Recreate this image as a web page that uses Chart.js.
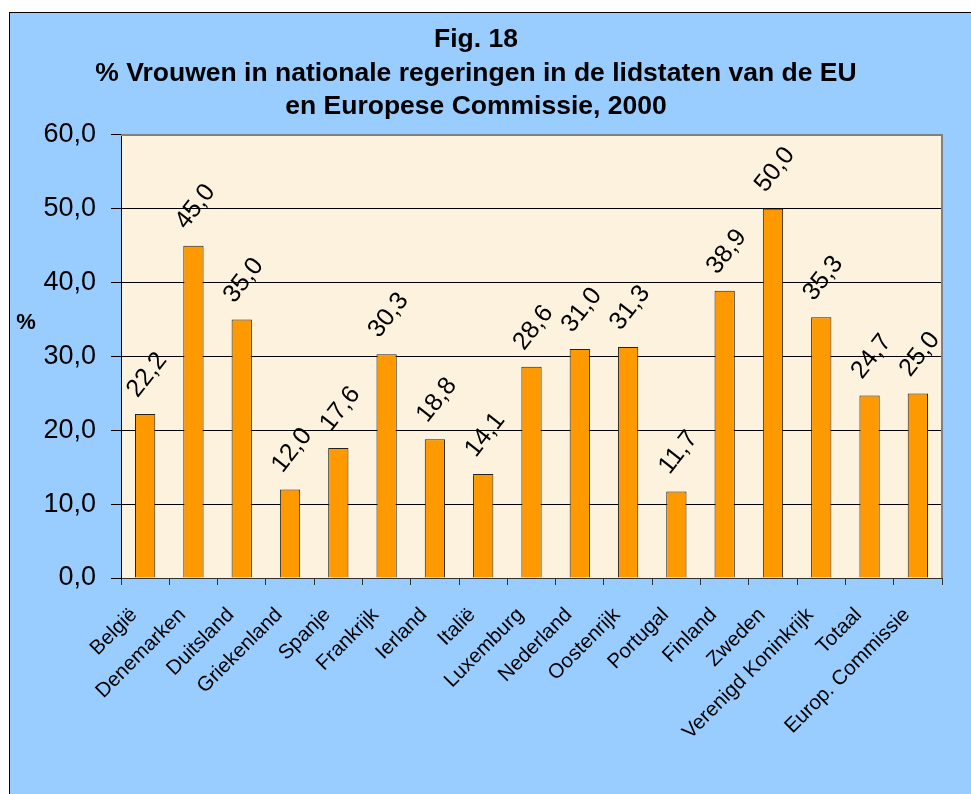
<!DOCTYPE html>
<html>
<head>
<meta charset="utf-8">
<script src="https://cdn.jsdelivr.net/npm/chart.js@4/dist/chart.umd.min.js"></script>
<style>
  html, body { margin: 0; padding: 0; background: #fff; }
  #frame {
    position: absolute; left: 9px; top: 12px; width: 962px; height: 782px;
    background: #99CCFF; border-left: 1px solid #000; border-top: 1px solid #000;
  }
  #chart { position: absolute; left: 0; top: 0; }
</style>
</head>
<body>
<div id="frame"><canvas id="chart" width="961" height="781"></canvas></div>
<script>
// Gegevens
const landen = ['België', 'Denemarken', 'Duitsland', 'Griekenland', 'Spanje', 'Frankrijk', 'Ierland', 'Italië',
  'Luxemburg', 'Nederland', 'Oostenrijk', 'Portugal', 'Finland', 'Zweden', 'Verenigd Koninkrijk', 'Totaal',
  'Europ. Commissie'];
const percentages = [22.2, 45.0, 35.0, 12.0, 17.6, 30.3, 18.8, 14.1, 28.6, 31.0, 31.3, 11.7, 38.9, 50.0, 35.3, 24.7, 25.0];
const titel = ['Fig. 18', '% Vrouwen in nationale regeringen in de lidstaten van de EU', 'en Europese Commissie, 2000'];
const yMin = 0, yMax = 60, yStap = 10;

const lettertype = "'Liberation Sans', Arial, sans-serif";
const fmt = v => Number(v).toFixed(1).replace('.', ',');

// achtergrond van het plotvlak + grijze rand boven/rechts
const plotVlak = {
  id: 'plotVlak',
  beforeDraw(chart) {
    const { ctx, chartArea: a } = chart;
    ctx.save();
    ctx.fillStyle = '#FCF2DE';
    ctx.fillRect(a.left, a.top, a.right - a.left, a.bottom - a.top);
    ctx.restore();
  },
  afterDraw(chart) {
    const { ctx, chartArea: a } = chart;
    ctx.save();
    ctx.strokeStyle = '#808080';
    ctx.lineWidth = 2;
    ctx.beginPath();
    ctx.moveTo(a.left, a.top);
    ctx.lineTo(a.right, a.top);
    ctx.lineTo(a.right, a.bottom);
    ctx.stroke();
    ctx.restore();
  }
};

// schuine waardelabels boven de staven en het "%" label
const labels = {
  id: 'labels',
  afterDatasetsDraw(chart) {
    const ctx = chart.ctx;
    const meta = chart.getDatasetMeta(0);
    ctx.save();
    ctx.fillStyle = '#000';
    ctx.font = '25px ' + lettertype;
    ctx.textAlign = 'center';
    ctx.textBaseline = 'middle';
    meta.data.forEach((bar, i) => {
      ctx.save();
      ctx.translate(bar.x + 2, bar.y - 39);
      ctx.rotate(-52 * Math.PI / 180);
      ctx.fillText(fmt(percentages[i]), 0, 0);
      ctx.restore();
    });
    ctx.font = 'bold 22px ' + lettertype;
    ctx.fillText('%', 16, 310);
    ctx.restore();
  }
};

new Chart(document.getElementById('chart'), {
  type: 'bar',
  data: {
    labels: landen,
    datasets: [{
      data: percentages,
      backgroundColor: '#FF9900',
      borderColor: '#222',
      borderWidth: 1,
      categoryPercentage: 1,
      barPercentage: 0.42
    }]
  },
  options: {
    responsive: false,
    animation: false,
    layout: { padding: { left: 0, right: 29, top: 0, bottom: 0 } },
    plugins: {
      legend: { display: false },
      tooltip: { enabled: false },
      title: {
        display: true,
        text: titel,
        color: '#000',
        font: { family: lettertype, size: 26.5, weight: 'bold', lineHeight: 1.27 },
        padding: { top: 10, bottom: 11 }
      }
    },
    scales: {
      x: {
        grid: { drawOnChartArea: false, tickLength: 7, color: '#333', offset: true },
        border: { color: '#333', width: 1 },
        ticks: {
          color: '#000', font: { family: lettertype, size: 20.5 },
          autoSkip: false, maxRotation: 45, minRotation: 45,
          padding: 18, labelOffset: -11
        },
        afterFit(scale) { scale.height = 216; }
      },
      y: {
        min: yMin, max: yMax,
        grid: { color: '#000', tickLength: 10 },
        border: { color: '#000', width: 1 },
        ticks: {
          stepSize: yStap, color: '#000', padding: 15,
          font: { family: lettertype, size: 27 },
          callback: v => fmt(v)
        },
        afterFit(scale) { scale.width = 111; }
      }
    }
  },
  plugins: [plotVlak, labels]
});
</script>
</body>
</html>
